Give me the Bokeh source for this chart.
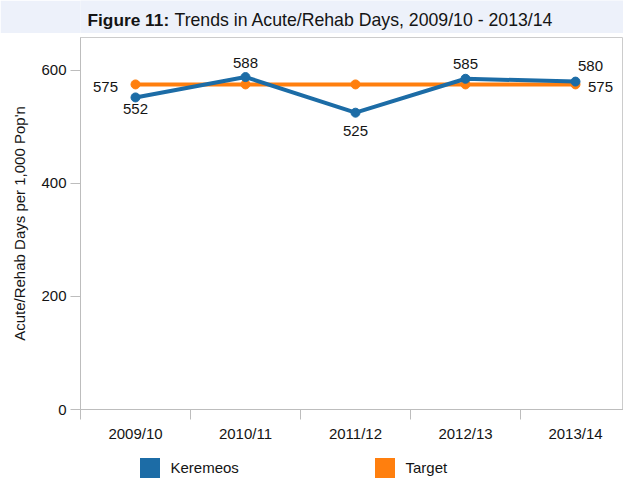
from bokeh.plotting import figure
from bokeh.models import (Range1d, LinearAxis, FixedTicker, Label,
                          Legend, LegendItem, ColumnDataSource)
from bokeh.layouts import column
from bokeh.core.properties import value
from bokeh.embed import file_html
from bokeh.resources import INLINE

# ---- data ----
years = ["2009/10", "2010/11", "2011/12", "2012/13", "2013/14"]
keremeos = [552, 588, 525, 585, 580]
target = [575, 575, 575, 575, 575]
y_ticks = [0, 200, 400, 600]
title_bold = "Figure 11:"
title_rest = "Trends in Acute/Rehab Days, 2009/10 - 2013/14"

# ---- styling constants ----
BLUE = "#1c6ca6"
ORANGE = "#ff7f0e"
GRID = "#bdbdbd"
TXT = "#141414"
BAND = "#edf1fa"
FONT = "Liberation Sans"
W = 623
YMAX = 658
CAT_PX = 110  # width of one category in px
LEFT = 80     # frame left edge (shared by the stacked figures)
FW = W - LEFT

# ---------------- title band ----------------
TH = 33
tf = figure(width=W, height=TH, output_backend="svg", toolbar_location=None,
            x_range=Range1d(0, FW), y_range=Range1d(0, TH),
            x_axis_type=None, y_axis_type=None,
            min_border_left=LEFT, min_border_right=0, min_border_top=0, min_border_bottom=0)
tf.outline_line_color = None
tf.grid.visible = False
tf.background_fill_color = BAND
tf.border_fill_color = BAND
tf.add_layout(Label(x=87 - LEFT, y=14, text=title_bold, text_font=FONT,
                    text_font_size="17.3px", text_font_style="bold",
                    text_baseline="middle", text_color=TXT))
tf.add_layout(Label(x=174 - LEFT, y=14, text=title_rest, text_font=FONT,
                    text_font_size="17.7px", text_baseline="middle", text_color=TXT))

# ---------------- main chart ----------------
MH = 412
TOP, BOTTOM = 4, 36
xs = [i + 0.5 for i in range(len(years))]

p = figure(width=W, height=MH, output_backend="svg", toolbar_location=None,
           x_range=Range1d(0, FW / CAT_PX), y_range=Range1d(0, YMAX),
           x_axis_type=None, y_axis_type=None,
           min_border_left=LEFT, min_border_right=0,
           min_border_top=TOP, min_border_bottom=BOTTOM)
p.outline_line_color = "#cccccc"
p.grid.visible = False

yaxis = LinearAxis(ticker=FixedTicker(ticks=y_ticks),
                   axis_label="Acute/Rehab Days per 1,000 Pop'n")
yaxis.axis_line_color = GRID
yaxis.major_tick_line_color = GRID
yaxis.major_tick_out = 10
yaxis.major_tick_in = 0
yaxis.minor_tick_line_color = None
yaxis.major_label_text_font = FONT
yaxis.major_label_text_font_size = "15px"
yaxis.major_label_text_color = TXT
yaxis.major_label_standoff = 4
yaxis.axis_label_text_font = FONT
yaxis.axis_label_text_font_size = "15px"
yaxis.axis_label_text_font_style = "normal"
yaxis.axis_label_text_color = TXT
yaxis.axis_label_standoff = 10
p.add_layout(yaxis, "left")

xaxis = LinearAxis(ticker=FixedTicker(ticks=xs, minor_ticks=list(range(len(years) + 1))),
                   major_label_overrides={x: y for x, y in zip(xs, years)})
xaxis.axis_line_color = GRID
xaxis.major_tick_line_color = None
xaxis.minor_tick_line_color = GRID
xaxis.minor_tick_out = 10
xaxis.minor_tick_in = 0
xaxis.major_label_text_font = FONT
xaxis.major_label_text_font_size = "15px"
xaxis.major_label_text_color = TXT
xaxis.major_label_standoff = 5
p.add_layout(xaxis, "below")

tsrc = ColumnDataSource(dict(x=xs, y=target))
ksrc = ColumnDataSource(dict(x=xs, y=keremeos, lab=[str(v) for v in keremeos],
                             xo=[0, 0, 0, 0, 15], yo=[12, -14, 18, -15, -16]))

p.line("x", "y", source=tsrc, line_width=4, color=ORANGE)
p.scatter("x", "y", source=tsrc, size=9, color=ORANGE)
p.line("x", "y", source=ksrc, line_width=4, color=BLUE)
p.scatter("x", "y", source=ksrc, size=9, color=BLUE)

tlab = ColumnDataSource(dict(x=[xs[0], xs[-1]], y=[target[0], target[-1]],
                             lab=[str(target[0]), str(target[-1])],
                             xo=[-30, 25], yo=[3, 3]))
p.text("x", "y", text="lab", source=tlab, x_offset="xo", y_offset="yo",
       text_align="center", text_baseline="middle", text_font=value(FONT),
       text_font_size="15px", text_color=TXT)
p.text("x", "y", text="lab", source=ksrc, x_offset="xo", y_offset="yo",
       text_align="center", text_baseline="middle", text_font=value(FONT),
       text_font_size="15px", text_color=TXT)

# ---------------- legend ----------------
LH = 480 - TH - MH
lf = figure(width=W, height=LH, output_backend="svg", toolbar_location=None,
            x_range=Range1d(0, FW), y_range=Range1d(0, LH),
            x_axis_type=None, y_axis_type=None,
            min_border_left=LEFT, min_border_right=0, min_border_top=0, min_border_bottom=0)
lf.outline_line_color = None
lf.grid.visible = False
nan = float("nan")
sk = lf.quad(left=[nan], right=[nan], top=[nan], bottom=[nan], fill_color=BLUE, line_color=None)
st = lf.quad(left=[nan], right=[nan], top=[nan], bottom=[nan], fill_color=ORANGE, line_color=None)
legend = Legend(items=[LegendItem(label="Keremeos", renderers=[sk]),
                       LegendItem(label="Target", renderers=[st])],
                orientation="horizontal", location=(136.5 - LEFT, 0),
                glyph_width=25, glyph_height=25, label_standoff=9,
                label_width=201, spacing=0, padding=0, margin=0,
                border_line_color=None, background_fill_alpha=0,
                label_text_font=FONT, label_text_font_size="15px",
                label_text_color=TXT)
lf.add_layout(legend)

layout = column(tf, p, lf, spacing=0)
open("out.html", "w").write(file_html(layout, INLINE))
